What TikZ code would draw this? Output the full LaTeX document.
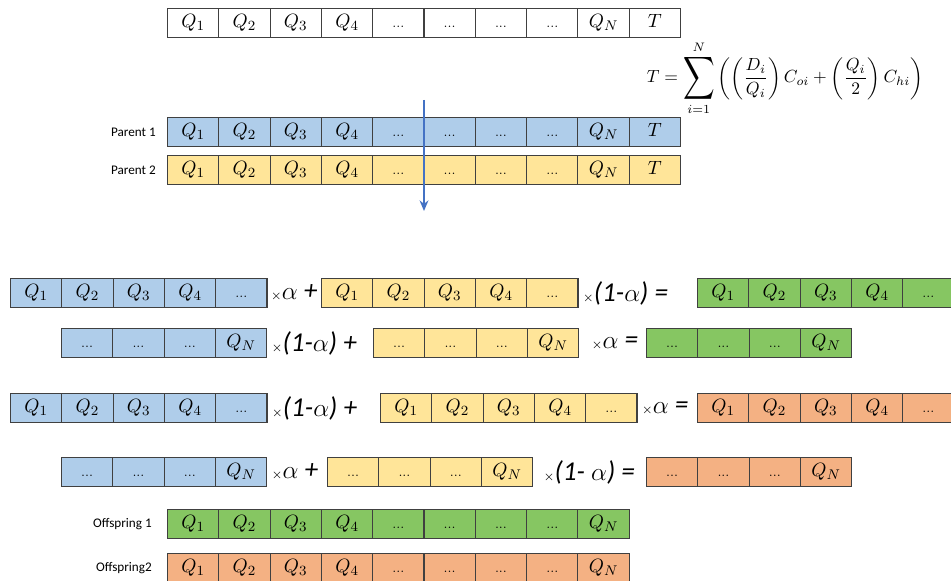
\documentclass[tikz,border=0pt]{standalone}
\usepackage{amsmath}
\usepackage{graphicx}
\usepackage{fontspec}
\usepackage{tikz}
\usetikzlibrary{arrows.meta,positioning}
\newfontfamily\calibri{Carlito}
\definecolor{geneblue}{RGB}{175,205,234}
\definecolor{geneyellow}{RGB}{255,229,153}
\definecolor{genegreen}{RGB}{134,198,98}
\definecolor{geneorange}{RGB}{244,177,131}
\definecolor{genegray}{RGB}{64,64,64}
\definecolor{cutblue}{RGB}{68,114,196}
\newcommand{\ddd}{{\fontsize{7}{8}\selectfont...}}
\newcommand{\mult}{{\fontsize{7}{8}\selectfont$\times$}}
\newcommand{\bigsum}{\mathop{\vcenter{\hbox{\scalebox{1.25}[1.7]{$\displaystyle\sum$}}}}\limits}
% one chromosome: name, left, top, colour, cell labels
\newcommand{\genes}[5]{%
  \foreach \lab [count=\k] in {#5}
    \node[gene, fill=#4] (#1-\k) at ({#2+(\k-1)*51.3},#3) {\lab};
}

\begin{document}
\begin{tikzpicture}[x=0.02cm, y=-0.02cm,
    gene/.style={draw=genegray, line width=0.6pt, minimum width=1.026cm, minimum height=0.58cm,
        inner sep=0pt, anchor=north west, text height=8pt, text depth=3pt, font=\fontsize{11}{13}\selectfont},
    lab/.style={font=\calibri\fontsize{7.5}{9}\selectfont},
    op/.style={font=\calibri\itshape\fontsize{15.5}{18}\selectfont, inner sep=0pt},
    cut/.style={cutblue, line width=1.2pt, -{Stealth[length=6pt,width=5pt]}}]
    \useasboundingbox (0,0) rectangle (951,581);
    % chromosome and fitness
    \genes{top}{167}{8}{white}{$Q_1$,$Q_2$,$Q_3$,$Q_4$,\ddd,\ddd,\ddd,\ddd,$Q_N$,$T$}
    \node[font=\fontsize{10}{12}\selectfont, inner sep=0pt] (fit) at (785,78)
        {$\displaystyle T = \bigsum_{i=1}^{N}\left(\left(\frac{D_i}{Q_i}\right)C_{oi}+\left(\frac{Q_i}{2}\right)C_{hi}\right)$};
    % parents
    \genes{pa}{167}{117}{geneblue}{$Q_1$,$Q_2$,$Q_3$,$Q_4$,\ddd,\ddd,\ddd,\ddd,$Q_N$,$T$}
    \genes{pb}{167}{155}{geneyellow}{$Q_1$,$Q_2$,$Q_3$,$Q_4$,\ddd,\ddd,\ddd,\ddd,$Q_N$,$T$}
    \node[lab, left=0.1cm of pa-1] (pa-name) {Parent 1};
    \node[lab, left=0.1cm of pb-1] (pb-name) {Parent 2};
    \coordinate (cut-top) at (424,100);
    \coordinate (cut-bot) at (424,211);
    \draw[cut] (cut-top) -- (cut-bot);
    % first offspring, left part
    \genes{a1}{10}{278}{geneblue}{$Q_1$,$Q_2$,$Q_3$,$Q_4$,\ddd}
    \node[op, right=0.06cm of a1-5] (a-op1) {\mult$\alpha$ +};
    \genes{a2}{321}{278}{geneyellow}{$Q_1$,$Q_2$,$Q_3$,$Q_4$,\ddd}
    \node[op, right=0.08cm of a2-5] (a-op2) {\mult(1-$\alpha$) =};
    \genes{a3}{697}{278}{genegreen}{$Q_1$,$Q_2$,$Q_3$,$Q_4$,\ddd}
    % first offspring, right part
    \genes{b1}{61}{328}{geneblue}{\ddd,\ddd,\ddd,$Q_N$}
    \node[op, right=0.08cm of b1-4] (b-op1) {\mult(1-$\alpha$) +};
    \genes{b2}{373}{328}{geneyellow}{\ddd,\ddd,\ddd,$Q_N$}
    \node[op, right=0.24cm of b2-4] (b-op2) {\mult$\alpha$ =};
    \genes{b3}{646}{328}{genegreen}{\ddd,\ddd,\ddd,$Q_N$}
    % second offspring, left part
    \genes{c1}{10}{393}{geneblue}{$Q_1$,$Q_2$,$Q_3$,$Q_4$,\ddd}
    \node[op, right=0.08cm of c1-5] (c-op1) {\mult(1-$\alpha$) +};
    \genes{c2}{380}{393}{geneyellow}{$Q_1$,$Q_2$,$Q_3$,$Q_4$,\ddd}
    \node[op, right=0.08cm of c2-5] (c-op2) {\mult$\alpha$ =};
    \genes{c3}{697}{393}{geneorange}{$Q_1$,$Q_2$,$Q_3$,$Q_4$,\ddd}
    % second offspring, right part
    \genes{d1}{61}{457}{geneblue}{\ddd,\ddd,\ddd,$Q_N$}
    \node[op, right=0.08cm of d1-4] (d-op1) {\mult$\alpha$ +};
    \genes{d2}{327}{457}{geneyellow}{\ddd,\ddd,\ddd,$Q_N$}
    \node[op, right=0.2cm of d2-4] (d-op2) {\mult(1- $\alpha$) =};
    \genes{d3}{646}{457}{geneorange}{\ddd,\ddd,\ddd,$Q_N$}
    % offspring
    \genes{oa}{167}{509}{genegreen}{$Q_1$,$Q_2$,$Q_3$,$Q_4$,\ddd,\ddd,\ddd,\ddd,$Q_N$}
    \genes{ob}{167}{553}{geneorange}{$Q_1$,$Q_2$,$Q_3$,$Q_4$,\ddd,\ddd,\ddd,\ddd,$Q_N$}
    \node[lab, left=0.18cm of oa-1] (oa-name) {Offspring 1};
    \node[lab, left=0.18cm of ob-1] (ob-name) {Offspring2};
\end{tikzpicture}
\end{document}
